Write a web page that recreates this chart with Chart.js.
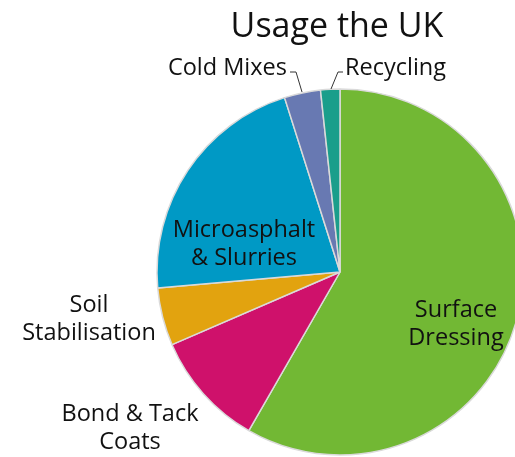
<!DOCTYPE html>
<html>
<head>
<meta charset="utf-8">
<script src="https://cdn.jsdelivr.net/npm/chart.js@4.4.1/dist/chart.umd.min.js"></script>
<style>
	html, body { margin: 0; padding: 0; background: #fff; }
	#wrap { position: relative; width: 515px; height: 457px; overflow: hidden; }
</style>
</head>
<body>
<div id="wrap"><canvas id="myPieChart" width="515" height="457"></canvas></div>
<script>
// 데이터
var categories = ["Surface Dressing", "Bond & Tack Coats", "Soil Stabilisation", "Microasphalt & Slurries", "Cold Mixes", "Recycling"];
var shares = [58.3, 10.2, 5.1, 21.5, 3.2, 1.7];
var sliceColors = ["#72B834", "#CF116B", "#E2A30F", "#0099C5", "#6879B2", "#1A9E8B"];
var chartTitle = "Usage the UK";

// 라벨 위치 (텍스트, 기준선)
var labelLines = [
	{ lines: ["Surface", "Dressing"], x: 456, y: 317, align: "center" },
	{ lines: ["Microasphalt", "& Slurries"], x: 244, y: 237, align: "center" },
	{ lines: ["Soil", "Stabilisation"], x: 89, y: 312, align: "center" },
	{ lines: ["Bond & Tack", "Coats"], x: 130, y: 421, align: "center" },
	{ lines: ["Cold Mixes"], x: 287, y: 75, align: "right" },
	{ lines: ["Recycling"], x: 345, y: 75, align: "left" }
];

var labelPlugin = {
	id: "labelPlugin",
	afterDraw: function(chart) {
		var ctx = chart.ctx;
		ctx.save();
		ctx.fillStyle = "#111";
		ctx.textBaseline = "alphabetic";

		// 제목
		ctx.font = "34px 'Open Sans'";
		ctx.textAlign = "center";
		ctx.fillText(chartTitle, 337, 37);

		// 라벨
		ctx.font = "23.5px 'Open Sans'";
		labelLines.forEach(function(l) {
			ctx.textAlign = l.align;
			l.lines.forEach(function(t, i) {
				ctx.fillText(t, l.x, l.y + i * 28);
			});
		});

		// 지시선
		ctx.strokeStyle = "#333";
		ctx.lineWidth = 1;
		ctx.beginPath();
		ctx.moveTo(290, 72); ctx.lineTo(296, 72); ctx.lineTo(302, 92);
		ctx.moveTo(343, 72); ctx.lineTo(338, 72); ctx.lineTo(331, 89);
		ctx.stroke();
		ctx.restore();
	}
};

var ctx = document.getElementById("myPieChart").getContext("2d");
window.myPieChart = new Chart(ctx, {
	type: "pie",
	data: {
		labels: categories,
		datasets: [{
			data: shares,
			backgroundColor: sliceColors,
			borderColor: "#DADADA",
			borderWidth: 1.5,
			clip: false
		}]
	},
	options: {
		responsive: false,
		animation: false,
		radius: 183,
		layout: { padding: { left: 165, right: 0, top: 87, bottom: 0 } },
		plugins: {
			legend: { display: false },
			tooltip: { enabled: false }
		}
	},
	plugins: [labelPlugin]
});
</script>
</body>
</html>
